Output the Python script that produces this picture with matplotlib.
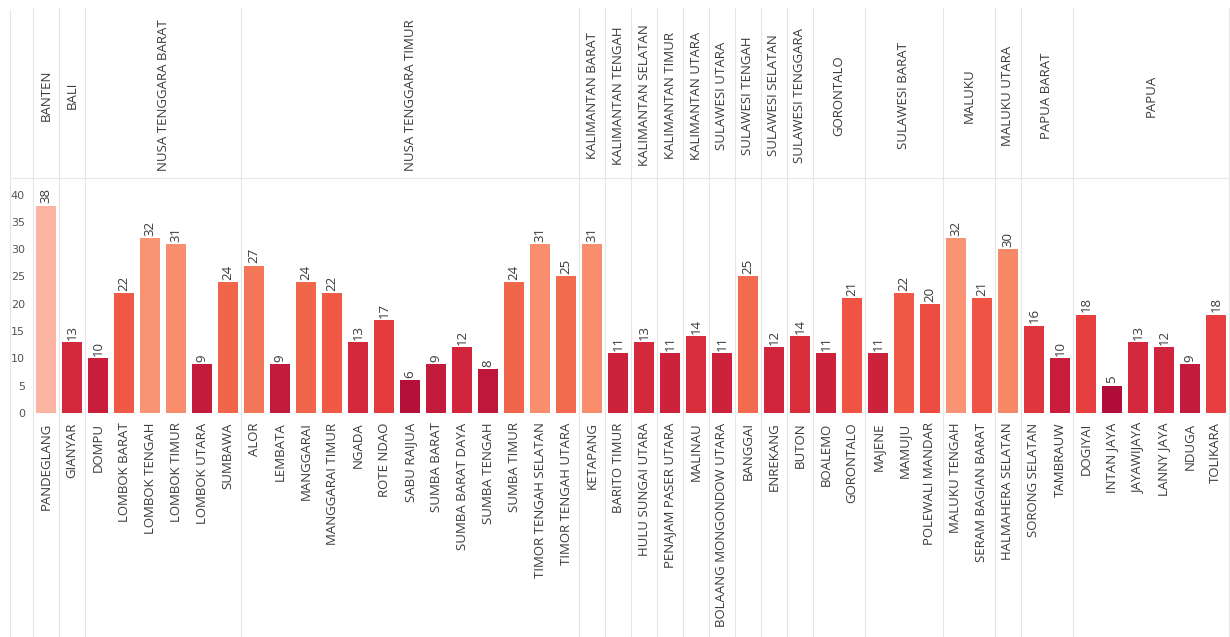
import matplotlib
matplotlib.use("Agg")
import matplotlib.pyplot as plt
from matplotlib.colors import LinearSegmentedColormap, Normalize

kabupaten = ["PANDEGLANG", "GIANYAR", "DOMPU", "LOMBOK BARAT", "LOMBOK TENGAH", "LOMBOK TIMUR",
             "LOMBOK UTARA", "SUMBAWA", "ALOR", "LEMBATA", "MANGGARAI", "MANGGARAI TIMUR", "NGADA",
             "ROTE NDAO", "SABU RAIJUA", "SUMBA BARAT", "SUMBA BARAT DAYA", "SUMBA TENGAH",
             "SUMBA TIMUR", "TIMOR TENGAH SELATAN", "TIMOR TENGAH UTARA", "KETAPANG", "BARITO TIMUR",
             "HULU SUNGAI UTARA", "PENAJAM PASER UTARA", "MALINAU", "BOLAANG MONGONDOW UTARA",
             "BANGGAI", "ENREKANG", "BUTON", "BOALEMO", "GORONTALO", "MAJENE", "MAMUJU",
             "POLEWALI MANDAR", "MALUKU TENGAH", "SERAM BAGIAN BARAT", "HALMAHERA SELATAN",
             "SORONG SELATAN", "TAMBRAUW", "DOGIYAI", "INTAN JAYA", "JAYAWIJAYA", "LANNY JAYA",
             "NDUGA", "TOLIKARA"]
nilai = [38, 13, 10, 22, 32, 31, 9, 24, 27, 9, 24, 22, 13, 17, 6, 9, 12, 8, 24, 31, 25, 31,
         11, 13, 11, 14, 11, 25, 12, 14, 11, 21, 11, 22, 20, 32, 21, 30, 16, 10, 18, 5, 13, 12,
         9, 18]
provinsi = ["BANTEN", "BALI", "NUSA TENGGARA BARAT", "NUSA TENGGARA TIMUR", "KALIMANTAN BARAT",
            "KALIMANTAN TENGAH", "KALIMANTAN SELATAN", "KALIMANTAN TIMUR", "KALIMANTAN UTARA",
            "SULAWESI UTARA", "SULAWESI TENGAH", "SULAWESI SELATAN", "SULAWESI TENGGARA",
            "GORONTALO", "SULAWESI BARAT", "MALUKU", "MALUKU UTARA", "PAPUA BARAT", "PAPUA"]
jumlah_kab = [1, 1, 6, 13, 1, 1, 1, 1, 1, 1, 1, 1, 1, 2, 3, 2, 1, 2, 6]

# colour scale: low = dark crimson, high = light salmon
cmap = LinearSegmentedColormap.from_list("merah", [
    (0.00, "#b00d3a"), (0.15, "#c81e3c"), (0.25, "#d52a3c"), (0.40, "#e8403f"),
    (0.52, "#f05a45"), (0.62, "#f26d50"), (0.80, "#f8906f"), (1.00, "#fcb4a2")])
norm = Normalize(vmin=5, vmax=38)

fs = 9.5
teks = "#3a3a3a"

fig = plt.figure(figsize=(12.3, 6.37), dpi=100)
ax = fig.add_axes([0.027, 0.352, 0.971, 0.369])

x = list(range(len(kabupaten)))
ax.bar(x, nilai, width=0.77, color=[cmap(norm(v)) for v in nilai], zorder=3)
for xi, v in zip(x, nilai):
    ax.text(xi, v + 0.4, str(v), rotation=90, ha="center", va="bottom",
            fontsize=fs, color=teks, family="Open Sans")

ax.set_xlim(-0.5, 45.45)
ax.set_ylim(0, 43.1)
ax.set_yticks(range(0, 41, 5))
ax.set_xticks(x)
ax.set_xticklabels(kabupaten, rotation=90, va="top", ha="center", fontsize=fs,
                   family="Open Sans", color=teks)
ax.tick_params(axis="x", length=0, pad=7)
ax.tick_params(axis="y", length=0, labelsize=8, labelcolor="#555555", pad=6)
for s in ax.spines.values():
    s.set_visible(False)

# province headers and separators
grid_col = "#e6e6e6"
mulai = 0
for prov, n in zip(provinsi, jumlah_kab):
    tengah = mulai + (n - 1) / 2
    ax.text(tengah, 1.35, prov, transform=ax.get_xaxis_transform(), rotation=90,
            ha="center", va="center", fontsize=fs, family="Open Sans", color=teks)
    ax.axvline(mulai - 0.5, ymin=-0.95, ymax=1.72, clip_on=False, color=grid_col, lw=0.8, zorder=0)
    mulai += n
ax.axvline(45.5, ymin=-0.95, ymax=1.72, clip_on=False, color=grid_col, lw=0.8, zorder=0)
fig.add_artist(plt.Line2D([10 / 1230, 10 / 1230], [0, 0.985], color=grid_col, lw=0.8))
fig.add_artist(plt.Line2D([10 / 1230, 1], [0.7206, 0.7206], color=grid_col, lw=0.8))

fig.savefig("out.png", dpi=100, facecolor="white")
